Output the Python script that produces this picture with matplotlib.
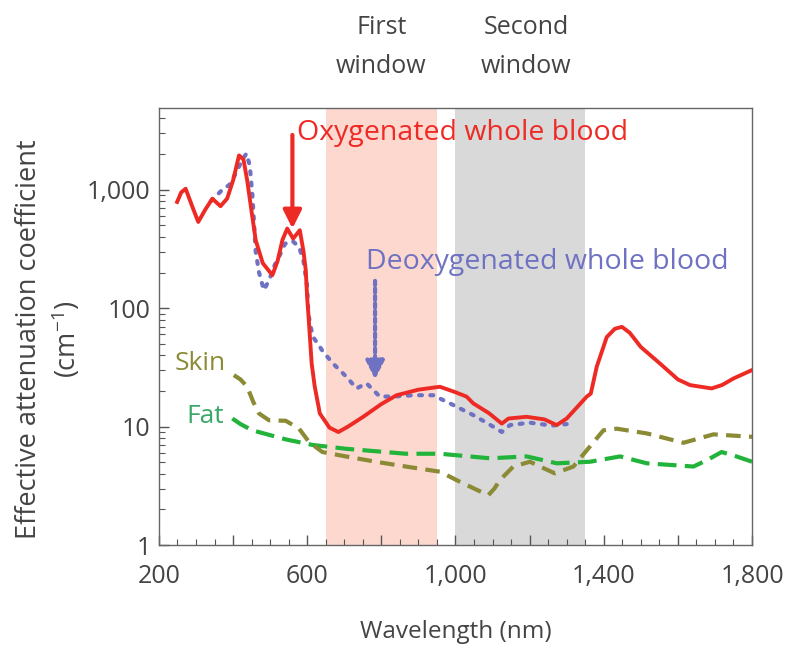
import numpy as np
import matplotlib
matplotlib.use("Agg")
import matplotlib.pyplot as plt
from matplotlib.ticker import FixedLocator, MultipleLocator, FuncFormatter, LogLocator, NullFormatter

plt.rcParams['font.family'] = ['Open Sans', 'DejaVu Sans']
plt.rcParams['mathtext.fontset'] = 'custom'
plt.rcParams['mathtext.rm'] = 'Open Sans'
plt.rcParams['mathtext.default'] = 'regular'

# oxygenated whole blood (nm, cm^-1)
oxy_nm = [249, 260, 272, 290, 306, 325, 344, 366, 384, 400, 416, 428, 438, 450, 461,
          480, 506, 520, 533, 546, 562, 580, 590, 596, 600, 603, 612, 620, 634, 660,
          684, 710, 751, 800, 841, 900, 958, 1000, 1030, 1048, 1090, 1125, 1143, 1192,
          1240, 1273, 1300, 1354, 1365, 1381, 1408, 1430, 1449, 1470, 1500, 1552, 1600,
          1633, 1691, 1720, 1750, 1800]
oxy_val = [789, 950, 1020, 720, 535, 680, 840, 726, 843, 1200, 1950, 1800, 1200, 650, 375,
           240, 190, 250, 375, 470, 387, 455, 300, 209, 120, 90, 34, 22, 12.9, 9.8,
           9.0, 10.0, 12.1, 15.5, 18.4, 20.5, 21.7, 19.5, 17.9, 15.7, 13, 10.6, 11.7, 12.1,
           11.5, 10.3, 11.7, 17.9, 19, 32, 57, 67, 69.5, 62, 47, 34, 25,
           22.4, 21, 22.5, 25.5, 30]

# deoxygenated whole blood
deoxy_nm = [340, 371, 390, 407, 425, 436, 445, 452, 461, 470, 483, 497, 512, 528, 540,
            560, 578, 590, 600, 603, 609, 616, 643, 670, 706, 733, 760, 796, 840, 886,
            940, 985, 1048, 1090, 1125, 1147, 1200, 1260, 1300]
deoxy_val = [800, 1000, 1100, 1370, 1800, 2020, 1600, 900, 300, 200, 142, 172, 230, 289, 350,
             370, 329, 250, 151, 90, 70, 57, 42.8, 34, 26.3, 21, 23.2, 17.9, 18, 18.4,
             18.4, 15.7, 12.5, 10.5, 9.0, 10.3, 10.8, 10.2, 10.5]

# skin
skin_nm = [402, 420, 438, 455, 470, 497, 542, 578, 605, 641, 704, 785, 866, 958, 1012,
           1060, 1089, 1105, 1120, 1156, 1201, 1228, 1268, 1318, 1354, 1399, 1435, 1516,
           1615, 1696, 1800]
skin_val = [27.2, 25, 21.7, 16, 12.9, 11.3, 11.2, 9.6, 7.4, 6.1, 5.6, 5.05, 4.6, 4.16, 3.42,
            2.9, 2.64, 3.0, 3.54, 4.6, 5.05, 4.6, 4.03, 4.6, 6.3, 9.3, 9.6, 8.76,
            7.3, 8.6, 8.2]

# fat
fat_nm = [398, 420, 452, 542, 614, 704, 866, 958, 1093, 1192, 1273, 1363, 1444, 1516,
          1642, 1678, 1718, 1758, 1800]
fat_val = [11.7, 10.5, 9.3, 7.8, 7.0, 6.5, 5.9, 5.9, 5.4, 5.6, 4.9, 5.05, 5.6, 4.9,
           4.6, 5.2, 6.1, 5.6, 5.05]

first_window = (650, 950)
second_window = (1000, 1350)

txt = '#444444'
red = '#ee2a24'
blue = '#6f72c2'
olive = '#8b8a35'
green = '#22b33a'

fig = plt.figure(figsize=(7.85, 6.49), dpi=100)
ax = fig.add_axes([0.2025, 0.1602, 0.7555, 0.6734])

ax.axvspan(*first_window, color='#fcd8cf', lw=0, zorder=0)
ax.axvspan(*second_window, color='#d9d9da', lw=0, zorder=0)

ax.plot(fat_nm, fat_val, color=green, lw=3, dashes=(4.5, 2), zorder=2)
ax.plot(skin_nm, skin_val, color=olive, lw=3, dashes=(3.5, 2), zorder=2)
ax.plot(deoxy_nm, deoxy_val, color=blue, lw=3, dashes=(0.7, 2.0),
        dash_capstyle='round', zorder=3)
ax.plot(oxy_nm, oxy_val, color=red, lw=2.8, zorder=4)

ax.set_yscale('log')
ax.set_xlim(200, 1800)
ax.set_ylim(1, 4900)

ax.xaxis.set_major_locator(MultipleLocator(200))
ax.xaxis.set_minor_locator(MultipleLocator(50))
ax.xaxis.set_major_formatter(FuncFormatter(
    lambda v, p: f"{int(v):,}" if int(v) % 400 == 200 else ""))
ax.yaxis.set_major_locator(FixedLocator([1, 10, 100, 1000]))
ax.yaxis.set_major_formatter(FuncFormatter(lambda v, p: f"{int(v):,}"))
ax.yaxis.set_minor_locator(LogLocator(base=10, subs=np.arange(2, 10)))
ax.yaxis.set_minor_formatter(NullFormatter())

ax.tick_params(which='both', direction='in', colors='#555555', labelcolor=txt,
               labelsize=18, top=False, right=False)
ax.tick_params(which='major', length=7, width=1)
ax.tick_params(which='minor', length=4, width=0.8)
ax.tick_params(axis='x', pad=14)
ax.tick_params(axis='y', pad=6)
for sp in ax.spines.values():
    sp.set_color('#666666')
    sp.set_linewidth(1)

ax.set_xlabel('Wavelength (nm)', fontsize=17.5, color=txt, labelpad=22)
fig.text(0.062, 1 - 339 / 649, 'Effective attenuation coefficient\n(cm$^{-1}$)',
         rotation=90, ha='center', va='center', multialignment='center',
         fontsize=19.5, color=txt, linespacing=1.3)

# window labels above the axes
xt = ax.get_xaxis_transform()
ax.text(800, 1.185, 'First', transform=xt, ha='center', va='center', fontsize=18, color=txt)
ax.text(800, 1.095, 'window', transform=xt, ha='center', va='center', fontsize=18, color=txt)
ax.text(1190, 1.185, 'Second', transform=xt, ha='center', va='center', fontsize=18, color=txt)
ax.text(1190, 1.095, 'window', transform=xt, ha='center', va='center', fontsize=18, color=txt)

# annotations
ax.annotate('', xy=(560, 470), xytext=(560, 2900),
            arrowprops=dict(arrowstyle='-|>,head_length=1.1,head_width=0.55',
                            color=red, lw=3, shrinkA=0, shrinkB=0), zorder=5)
ax.text(572, 3000, 'Oxygenated whole blood', color=red, fontsize=20.5, va='center', ha='left')

ax.annotate('', xy=(783, 25), xytext=(783, 170),
            arrowprops=dict(arrowstyle='-|>,head_length=1.1,head_width=0.55',
                            color=blue, lw=3, linestyle=(0, (1, 0.8)),
                            shrinkA=0, shrinkB=0), zorder=5)
ax.text(758, 245, 'Deoxygenated whole blood', color=blue, fontsize=20.5, va='center', ha='left')

ax.text(380, 34, 'Skin', color=olive, fontsize=19, va='center', ha='right')
ax.text(375, 12.2, 'Fat', color='#3aa86a', fontsize=19, va='center', ha='right')

fig.savefig('out.png', dpi=100)
